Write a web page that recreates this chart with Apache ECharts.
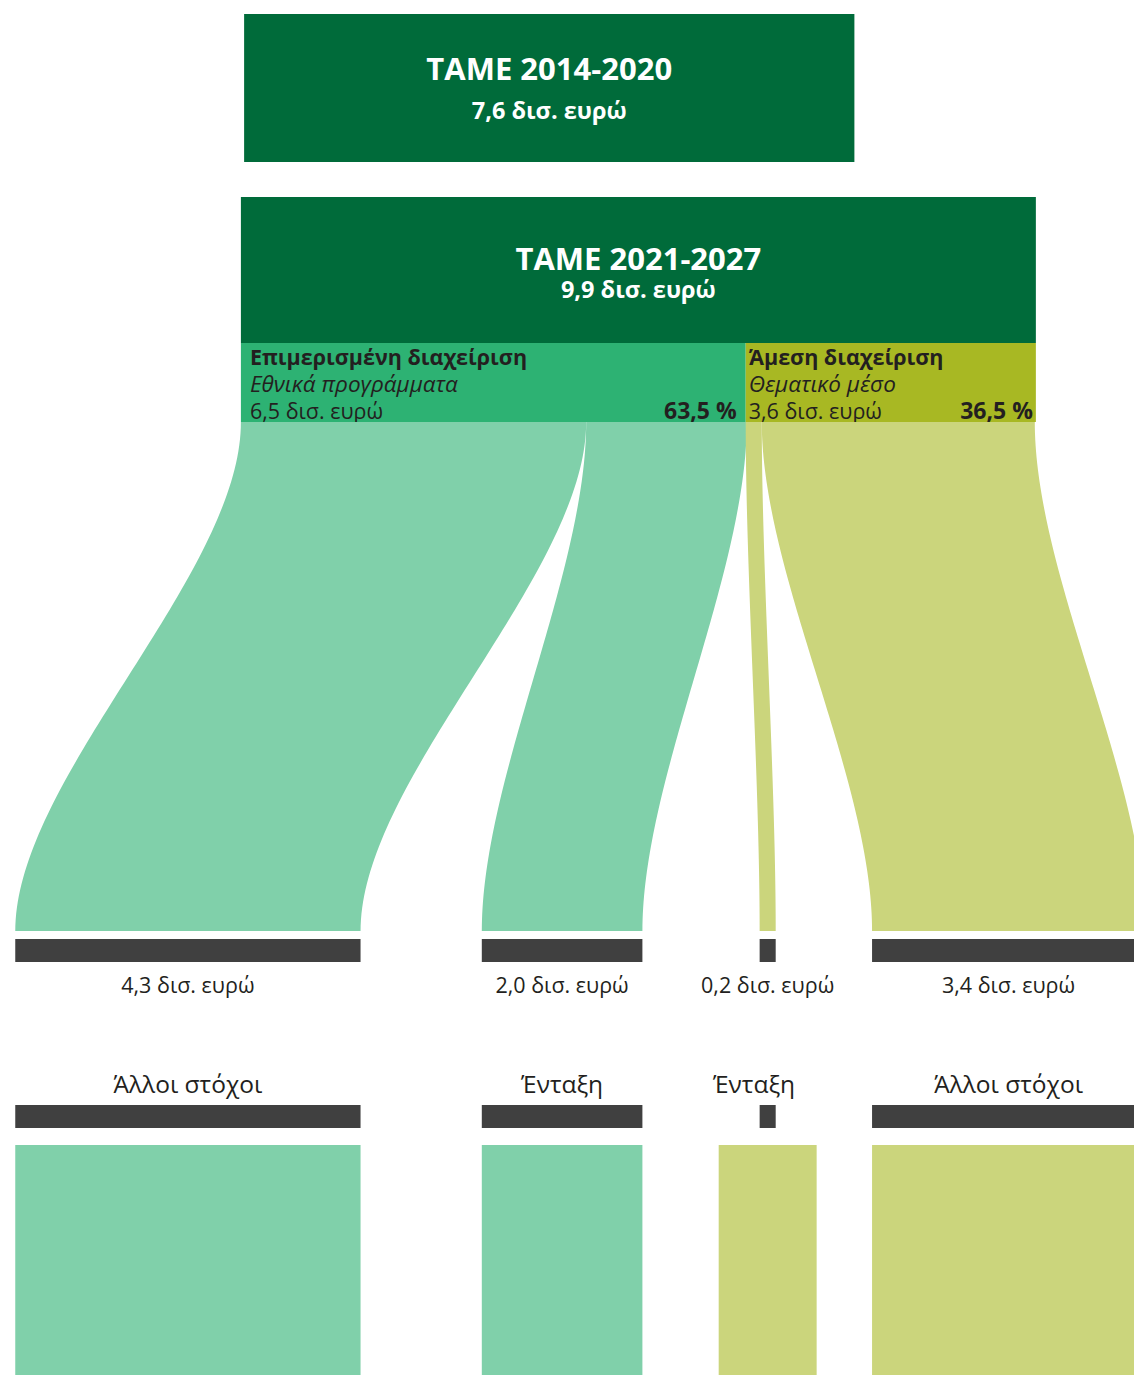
<!DOCTYPE html>
<html><head><meta charset="utf-8">
<script src="https://cdn.jsdelivr.net/npm/echarts@6/dist/echarts.min.js"></script>
<style>html,body{margin:0;padding:0;background:#fff}#c{width:1134px;height:1375px}</style>
</head><body><div id="c"></div><script>
// ---- data ----
const periodLabels = ['ΤΑΜΕ 2014-2020', 'ΤΑΜΕ 2021-2027'];
const periodTotals = [7.6, 9.9];
const managementNames = ['Επιμερισμένη διαχείριση', 'Άμεση διαχείριση'];
const managementSubtitles = ['Εθνικά προγράμματα', 'Θεματικό μέσο'];
const managementValues = [6.5, 3.6];
const managementShares = [63.5, 36.5];
const flowValues = [4.3, 2.0, 0.2, 3.4];
const flowSource = [0, 0, 1, 1];
const targetLabels = ['Άλλοι στόχοι', 'Ένταξη', 'Ένταξη', 'Άλλοι στόχοι'];

// ---- layout / style ----
const W = 1134, H = 1375, PX_PER_BN = 80.3;
const periodStart = [3.04, 3.0];
const bottomStart = 0.19;
const bottomGaps = [1.51, 1.46, 1.2];
const minPanel = 1.22;
const labelShift = [0, 0, -0.17, 0];
const CURVE = 0.3;
const Y = { p0: [14, 162], p1: [197, 343], band: [343, 422], flowTop: 422, flowBot: 931,
  bar1: [939, 962], val: 984, cat: 1083, bar2: [1105, 1128], panel: [1145, 1380] };
const C = { dark: '#006b3a', band: ['#2db273', '#a8b823'], light: ['#80d0aa', '#cbd57c'], bar: '#404040', text: '#231f20' };
const FONT = '"Open Sans", "Noto Sans", sans-serif';
const fmt = v => v.toFixed(1).replace('.', ',') + ' δισ. ευρώ';
const fmtPct = v => v.toFixed(1).replace('.', ',') + ' %';

// derived positions (in bn units along x)
const total21 = periodTotals[1];
const bandStart = [], bandWidth = [];
let acc = periodStart[1];
managementShares.forEach((s) => { bandStart.push(acc); bandWidth.push(s / 100 * total21); acc += s / 100 * total21; });
const flowTopStart = [], flowBotStart = [];
const used = bandStart.map(() => 0);
let b = bottomStart;
flowValues.forEach((v, i) => {
  const s = flowSource[i];
  flowTopStart.push(bandStart[s] + used[s]); used[s] += v;
  flowBotStart.push(b); b += v + (bottomGaps[i] || 0);
});

function rect(api, x0, x1, y0, y1, fill) {
  const a = api.coord([x0, y0]), c = api.coord([x1, y1]);
  return { type: 'rect', shape: { x: a[0], y: a[1], width: c[0] - a[0], height: c[1] - a[1] }, style: { fill } };
}
function text(api, x, y, str, o) {
  const p = api.coord([x, y]);
  return { type: 'text', style: Object.assign({ x: p[0], y: p[1], text: str, fill: C.text, fontFamily: FONT, fontSize: 21,
    align: 'center', verticalAlign: 'middle' }, o) };
}

const chart = echarts.init(document.getElementById('c'), null, { renderer: 'svg' });
chart.setOption({
  animation: false,
  grid: { left: 0, right: 0, top: 0, bottom: 0 },
  xAxis: { type: 'value', min: 0, max: W / PX_PER_BN, show: false },
  yAxis: { type: 'value', min: 0, max: H, inverse: true, show: false },
  series: [
    { // period boxes
      type: 'custom', clip: true,
      data: periodTotals.map((v, i) => [i, v]),
      renderItem: (params, api) => {
        const i = api.value(0), v = api.value(1);
        const x0 = periodStart[i], x1 = x0 + v, yy = i === 0 ? Y.p0 : Y.p1;
        const cx = (x0 + x1) / 2;
        const ty = i === 0 ? [68, 110] : [258, 289];
        return { type: 'group', children: [
          rect(api, x0, x1, yy[0], yy[1], C.dark),
          text(api, cx, ty[0], periodLabels[i], { fill: '#fff', fontWeight: 'bold', fontSize: 31 }),
          text(api, cx, ty[1], fmt(v), { fill: '#fff', fontWeight: 'bold', fontSize: 23.5 })
        ] };
      }
    },
    { // management bands
      type: 'custom', clip: true,
      data: managementValues.map((v, i) => [i, v, managementShares[i]]),
      renderItem: (params, api) => {
        const i = api.value(0), v = api.value(1), s = api.value(2);
        const x0 = bandStart[i], x1 = x0 + bandWidth[i];
        const pad = (i ? 3 : 9) / PX_PER_BN;
        return { type: 'group', children: [
          rect(api, x0, x1, Y.band[0], Y.band[1], C.band[i]),
          text(api, x0 + pad, 356, managementNames[i], { align: 'left', fontWeight: 'bold', fontSize: 21.5 }),
          text(api, x0 + pad, 383, managementSubtitles[i], { align: 'left', fontStyle: 'italic', fontSize: 22.5 }),
          text(api, x0 + pad, 410, fmt(v), { align: 'left', fontSize: 21.5 }),
          text(api, x1 - pad, 410, fmtPct(s), { align: 'right', fontWeight: 'bold', fontSize: 23 })
        ] };
      }
    },
    { // flows
      type: 'custom', clip: true,
      data: flowValues.map((v, i) => [i, v]),
      renderItem: (params, api) => {
        const i = api.value(0), v = api.value(1);
        const xt0 = flowTopStart[i], xt1 = xt0 + v, xb0 = flowBotStart[i], xb1 = xb0 + v;
        const yt = Y.flowTop, yb = Y.flowBot, h = yb - yt;
        const c1 = yt + h * CURVE, c2 = yb - h * CURVE;
        const bez = (xa, xb2, t) => {
          const u = 1 - t;
          const x = u * u * u * xa + 3 * u * u * t * xa + 3 * u * t * t * xb2 + t * t * t * xb2;
          const y = u * u * u * yt + 3 * u * u * t * c1 + 3 * u * t * t * c2 + t * t * t * yb;
          return api.coord([x, y]);
        };
        const pts = [], N = 80;
        for (let k = 0; k <= N; k++) pts.push(bez(xt0, xb0, k / N));
        for (let k = N; k >= 0; k--) pts.push(bez(xt1, xb1, k / N));
        return { type: 'polygon', shape: { points: pts }, style: { fill: C.light[flowSource[i]] } };
      }
    },
    { // bars, labels, panels
      type: 'custom', clip: true,
      data: flowValues.map((v, i) => [i, v]),
      renderItem: (params, api) => {
        const i = api.value(0), v = api.value(1);
        const x0 = flowBotStart[i], x1 = x0 + v, cx = (x0 + x1) / 2;
        const pw = Math.max(v, minPanel);
        return { type: 'group', children: [
          rect(api, x0, x1, Y.bar1[0], Y.bar1[1], C.bar),
          text(api, cx, Y.val, fmt(v), { fontSize: 21.5 }),
          text(api, cx + labelShift[i], Y.cat, targetLabels[i], { fontSize: 24.5 }),
          rect(api, x0, x1, Y.bar2[0], Y.bar2[1], C.bar),
          rect(api, cx - pw / 2, cx + pw / 2, Y.panel[0], Y.panel[1], C.light[flowSource[i]])
        ] };
      }
    }
  ]
});
</script></body></html>
